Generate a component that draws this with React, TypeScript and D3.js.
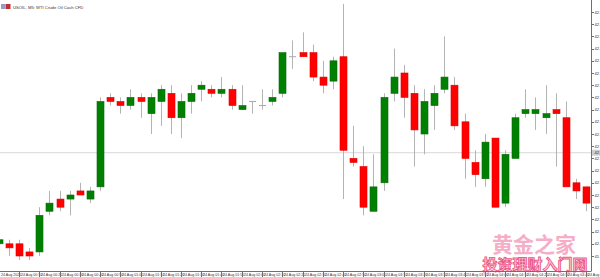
import React from "react";
import * as d3 from "d3";

const W = 600;
const H = 277;

// OHLC series (USOIL, 5-minute candles)
const opens = [42.01, 42.01, 42.01, 41.99, 41.99, 42.09, 42.12, 42.12, 42.14, 42.12, 42.15, 42.37, 42.36, 42.35, 42.37, 42.33, 42.36, 42.38, 42.32, 42.36, 42.39, 42.39, 42.38, 42.39, 42.34, 42.36, 42.35, 42.36, 42.38, 42.47, 42.48, 42.48, 42.42, 42.41, 42.47, 42.22, 42.20, 42.09, 42.16, 42.38, 42.43, 42.38, 42.28, 42.35, 42.39, 42.40, 42.31, 42.21, 42.17, 42.27, 42.11, 42.22, 42.33, 42.33, 42.32, 42.34, 42.32, 42.16, 42.15];
const highs = [42.03, 42.02, 42.02, 42.00, 42.10, 42.14, 42.14, 42.14, 42.16, 42.15, 42.37, 42.38, 42.37, 42.39, 42.38, 42.38, 42.40, 42.40, 42.38, 42.40, 42.41, 42.40, 42.42, 42.40, 42.40, 42.36, 42.39, 42.39, 42.48, 42.51, 42.53, 42.50, 42.46, 42.47, 42.60, 42.30, 42.25, 42.23, 42.38, 42.49, 42.45, 42.40, 42.39, 42.40, 42.52, 42.42, 42.33, 42.24, 42.28, 42.27, 42.24, 42.33, 42.39, 42.37, 42.40, 42.38, 42.36, 42.17, 42.15];
const lows = [42.00, 41.98, 41.97, 41.97, 41.98, 42.08, 42.09, 42.08, 42.13, 42.11, 42.14, 42.35, 42.33, 42.34, 42.32, 42.28, 42.30, 42.28, 42.27, 42.33, 42.36, 42.37, 42.37, 42.34, 42.34, 42.33, 42.34, 42.35, 42.37, 42.44, 42.47, 42.41, 42.38, 42.39, 42.12, 42.20, 42.08, 42.09, 42.14, 42.36, 42.32, 42.20, 42.23, 42.29, 42.38, 42.29, 42.17, 42.15, 42.15, 42.10, 42.10, 42.22, 42.32, 42.29, 42.28, 42.20, 42.15, 42.12, 42.09];
const closes = [42.02, 42.00, 41.98, 41.98, 42.08, 42.11, 42.10, 42.13, 42.13, 42.14, 42.36, 42.36, 42.35, 42.37, 42.36, 42.37, 42.39, 42.32, 42.36, 42.38, 42.40, 42.38, 42.39, 42.35, 42.35, 42.36, 42.35, 42.37, 42.48, 42.47, 42.47, 42.42, 42.40, 42.46, 42.24, 42.21, 42.10, 42.15, 42.37, 42.42, 42.37, 42.29, 42.36, 42.38, 42.42, 42.30, 42.22, 42.18, 42.26, 42.10, 42.23, 42.32, 42.34, 42.34, 42.33, 42.33, 42.15, 42.14, 42.11];

const priceTicks = [42.58, 42.55, 42.52, 42.49, 42.46, 42.43, 42.40, 42.37, 42.34, 42.31, 42.28, 42.25, 42.22, 42.19, 42.16, 42.13, 42.10, 42.07, 42.04, 42.01, 41.98];

const timeLabels = [
  "24 Aug 2020", "24 Aug 00:10", "24 Aug 00:20", "24 Aug 00:30", "24 Aug 00:40", "24 Aug 00:50",
  "24 Aug 01:00", "24 Aug 01:10", "24 Aug 01:20", "24 Aug 01:30", "24 Aug 01:40", "24 Aug 01:50",
  "24 Aug 02:00", "24 Aug 02:10", "24 Aug 02:20", "24 Aug 02:30", "24 Aug 02:40", "24 Aug 02:50",
  "24 Aug 03:00", "24 Aug 03:10", "24 Aug 03:20", "24 Aug 03:30", "24 Aug 03:40", "24 Aug 03:50",
  "24 Aug 04:00", "24 Aug 04:10", "24 Aug 04:20", "24 Aug 04:30", "24 Aug 04:40", "24 Aug 04:50",
];

const bidPrice = 42.234;
const title = "USOIL, M5:  WTI Crude Oil Cash CFD";

export default function App() {
  const axisX = 591;
  const axisY = 271;
  const x = d3.scaleLinear().domain([0, opens.length - 1]).range([-1.25, 586]);
  const y = d3.scaleLinear().domain([41.98, 42.58]).range([256, 12]);
  const bodyW = 7;
  const font = "'Liberation Sans', Arial, sans-serif";

  return (
    <svg
      width={W}
      height={H}
      style={{ position: "fixed", left: 0, top: 0, display: "block", background: "#fff" }}
    >
      <rect x={0} y={0} width={W} height={H} fill="#fff" />
      <defs>
        <clipPath id="plot">
          <rect x={0} y={0} width={axisX} height={axisY} />
        </clipPath>
      </defs>

      {/* bid line */}
      <line x1={0} x2={axisX} y1={y(bidPrice)} y2={y(bidPrice)} stroke="#d8d8d8" strokeWidth={1} />

      {/* watermark */}
      <text x={534} y={252} textAnchor="middle" fontFamily="'Noto Sans CJK SC'" fontWeight={700}
        fontSize={21} fill="#f4a6bf" opacity={0.9}>黄金之家</text>
      <text x={535} y={270} textAnchor="middle" fontFamily="'Noto Sans CJK SC'" fontWeight={700}
        fontSize={15} fill="#fbd3df" stroke="#ec5a86" strokeWidth={0.9}>投资理财入门网</text>

      <g clipPath="url(#plot)">
        {opens.map((o, i) => {
          const c = closes[i];
          const cx = Math.round(x(i)) + 0.5;
          const up = c > o;
          const doji = c === o;
          const top = y(Math.max(o, c));
          const bot = y(Math.min(o, c));
          return (
            <g key={i}>
              <line x1={cx} x2={cx} y1={y(highs[i])} y2={y(lows[i])} stroke="#b4b4b4" strokeWidth={1} />
              {doji ? (
                <line x1={cx - bodyW / 2} x2={cx + bodyW / 2} y1={top} y2={top} stroke="#a8a8a8" strokeWidth={1} />
              ) : (
                <rect
                  x={cx - bodyW / 2}
                  y={top}
                  width={bodyW}
                  height={Math.max(1.5, bot - top)}
                  fill={up ? "#008000" : "#ff0000"}
                  stroke={up ? "#0a6a0a" : "#e00000"}
                  strokeWidth={0.6}
                />
              )}
            </g>
          );
        })}
      </g>

      {/* title */}
      <rect x={1} y={4} width={4} height={5} fill="#9a9ac8" />
      <rect x={5.5} y={4} width={5} height={5} fill="#c03030" />
      <text x={13} y={8.6} fontFamily={font} fontSize={4.2} fill="#333">{title}</text>

      {/* axes */}
      <line x1={axisX + 0.5} x2={axisX + 0.5} y1={0} y2={axisY} stroke="#707070" strokeWidth={1} />
      <line x1={0} x2={axisX + 0.5} y1={axisY + 0.5} y2={axisY + 0.5} stroke="#707070" strokeWidth={1} />

      {priceTicks.map((p) => (
        <g key={p}>
          <line x1={axisX} x2={axisX + 3} y1={Math.round(y(p)) + 0.5} y2={Math.round(y(p)) + 0.5} stroke="#707070" />
          <text x={axisX + 3.5} y={y(p) + 1.5} fontFamily={font} fontSize={4.2} fill="#333">{p.toFixed(2)}</text>
        </g>
      ))}
      <rect x={axisX + 1} y={y(bidPrice) - 3} width={W - axisX} height={6} fill="#cfcfcf" />
      <text x={axisX + 3.5} y={y(bidPrice) + 1.5} fontFamily={font} fontSize={4.2} fill="#333">{bidPrice.toFixed(2)}</text>

      {timeLabels.map((t, k) => {
        const tx = Math.round(x(k * 2)) + 0.5;
        return (
          <g key={t}>
            <line x1={tx} x2={tx} y1={axisY} y2={axisY + 6} stroke="#707070" />
            <text x={tx + 1.5} y={axisY + 4.8} fontFamily={font} fontSize={3.6} fill="#333">{t}</text>
          </g>
        );
      })}
    </svg>
  );
}
